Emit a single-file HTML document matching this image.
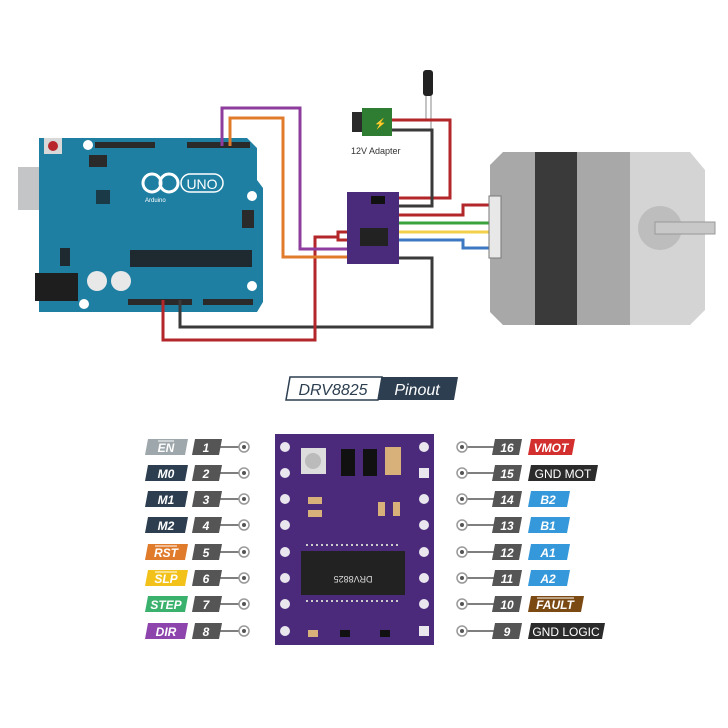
<!DOCTYPE html>
<html><head><meta charset="utf-8"><style>
body{margin:0;background:#fff}
svg{display:block}
text{font-family:"Liberation Sans",sans-serif}
</style></head><body>
<svg width="728" height="728" viewBox="0 0 728 728" xmlns="http://www.w3.org/2000/svg">
<!-- Arduino -->
<rect x="18" y="167" width="56" height="43" fill="#a9abad"/>
<rect x="18" y="167" width="40" height="43" fill="#c3c5c7"/>
<path d="M39 138 H247 L257 148 V180 L263 188 V302 L257 312 H39 Z" fill="#1f7fa2"/>
<rect x="35" y="273" width="43" height="28" fill="#1e1e1e"/>
<circle cx="88" cy="145" r="5" fill="#fff"/><circle cx="252" cy="196" r="5" fill="#fff"/>
<circle cx="252" cy="286" r="5" fill="#fff"/><circle cx="84" cy="304" r="5" fill="#fff"/>
<rect x="44" y="138" width="18" height="16" fill="#d8d8d8"/><circle cx="53" cy="146" r="5" fill="#b8262b"/>
<rect x="95" y="142" width="60" height="6" fill="#2a2a2a"/><rect x="187" y="142" width="63" height="6" fill="#2a2a2a"/>
<rect x="89" y="155" width="18" height="12" fill="#2a2a2a"/>
<rect x="96" y="190" width="14" height="14" fill="#1a3a48"/>
<rect x="242" y="210" width="12" height="18" fill="#2a2a2a"/>
<circle cx="152" cy="183" r="9" fill="none" stroke="#fff" stroke-width="3"/><circle cx="169" cy="183" r="9" fill="none" stroke="#fff" stroke-width="3"/>
<rect x="181" y="174" width="42" height="18" rx="9" fill="none" stroke="#fff" stroke-width="1.5"/>
<text x="202" y="189" font-size="14" fill="#fff" text-anchor="middle">UNO</text>
<text x="145" y="202" font-size="6" fill="#fff">Arduino</text>
<rect x="130" y="250" width="122" height="17" fill="#1e2a30"/>
<rect x="60" y="248" width="10" height="18" fill="#1e2a30"/>
<circle cx="97" cy="281" r="10" fill="#e8e8e8"/><circle cx="121" cy="281" r="10" fill="#e8e8e8"/>
<rect x="128" y="299" width="64" height="6" fill="#2a2a2a"/><rect x="203" y="299" width="50" height="6" fill="#2a2a2a"/>
<!-- adapter & capacitor -->
<rect x="352" y="112" width="12" height="20" fill="#2a2a2a"/>
<rect x="362" y="108" width="30" height="28" fill="#2e7d32"/>
<text x="374" y="127" font-size="10" fill="#f4b400">⚡</text>
<rect x="423" y="70" width="10" height="26" rx="3" fill="#222"/>
<line x1="426" y1="96" x2="426" y2="120" stroke="#888"/><line x1="431" y1="96" x2="431" y2="130" stroke="#888"/>
<text x="351" y="154" font-size="9" fill="#333">12V Adapter</text>
<!-- wires -->
<g fill="none" stroke-width="3">
<path d="M395 198 H450 V120 H392" stroke="#b3262a"/>
<path d="M395 206 H432 V130 H392" stroke="#3a3a3a"/>
<path d="M395 215 H463 V205 H497" stroke="#b3262a"/>
<path d="M395 223 H497" stroke="#3aa33c"/>
<path d="M395 232 H497" stroke="#f2d04a"/>
<path d="M395 240 H463 V248 H497" stroke="#3d78c2"/>
<path d="M395 258 H432 V327 H180 V300" stroke="#3a3a3a"/>
<path d="M353 232 H338 V240 H353 M338 237 H315 V340 H163 V300" stroke="#b3262a"/>
<path d="M353 249 H300 V108 H222 V146" stroke="#8e3d9e"/>
<path d="M353 257 H283 V118 H230 V146" stroke="#e07b2c"/>
</g>
<!-- small driver -->
<rect x="347" y="192" width="52" height="72" fill="#4a2a7a"/>
<rect x="360" y="228" width="28" height="18" fill="#222"/>
<rect x="371" y="196" width="14" height="8" fill="#111"/>
<!-- motor -->
<path d="M490 165 L503 152 H630 V325 H503 L490 312 Z" fill="#a8a8a8"/>
<rect x="535" y="152" width="42" height="173" fill="#3a3a3a"/>
<path d="M630 152 L690 152 L705 170 V310 L690 325 H630 Z" fill="#d4d4d4"/>
<circle cx="660" cy="228" r="22" fill="#bdbdbd"/>
<rect x="655" y="222" width="60" height="12" fill="#c8c8c8" stroke="#999"/>
<rect x="489" y="196" width="12" height="62" fill="#e8e8e8" stroke="#777"/>
<!-- title -->
<polygon points="290,377 382,377 378,400 286,400" fill="#fff" stroke="#2c3e50" stroke-width="1.5"/>
<polygon points="382,377 458,377 454,400 378,400" fill="#2c3e50"/>
<text x="333" y="395" font-size="16" font-style="italic" fill="#2c3e50" text-anchor="middle">DRV8825</text>
<text x="417" y="395" font-size="16" font-style="italic" fill="#fff" text-anchor="middle">Pinout</text>
<!-- board -->
<rect x="275" y="434" width="159" height="211" fill="#4b2a7b"/>
<g fill="#e9e6ee">
<circle cx="285" cy="447" r="5"/><circle cx="285" cy="473" r="5"/><circle cx="285" cy="499" r="5"/><circle cx="285" cy="525" r="5"/><circle cx="285" cy="552" r="5"/><circle cx="285" cy="578" r="5"/><circle cx="285" cy="604" r="5"/><circle cx="285" cy="631" r="5"/>
<circle cx="424" cy="447" r="5"/><rect x="419" y="468" width="10" height="10"/><circle cx="424" cy="499" r="5"/><circle cx="424" cy="525" r="5"/><circle cx="424" cy="552" r="5"/><circle cx="424" cy="578" r="5"/><circle cx="424" cy="604" r="5"/><rect x="419" y="626" width="10" height="10"/>
</g>
<rect x="301" y="448" width="25" height="26" fill="#ddd"/><circle cx="313" cy="461" r="8" fill="#bbb"/>
<rect x="341" y="449" width="14" height="27" fill="#111"/><rect x="363" y="449" width="14" height="27" fill="#111"/>
<rect x="385" y="447" width="16" height="28" fill="#d8b17a"/>
<rect x="308" y="497" width="14" height="7" fill="#d8b17a"/><rect x="308" y="510" width="14" height="7" fill="#d8b17a"/>
<rect x="378" y="502" width="7" height="14" fill="#d8b17a"/><rect x="393" y="502" width="7" height="14" fill="#d8b17a"/>
<rect x="301" y="551" width="104" height="44" fill="#222"/>
<g stroke="#ccc" stroke-width="2" stroke-dasharray="2,3"><line x1="306" y1="545" x2="400" y2="545"/><line x1="306" y1="601" x2="400" y2="601"/></g>
<text x="353" y="582" font-size="9" fill="#ddd" text-anchor="middle" transform="rotate(180 353 579)">DRV8825</text>
<rect x="308" y="630" width="10" height="7" fill="#d8b17a"/><rect x="340" y="630" width="10" height="7" fill="#111"/><rect x="380" y="630" width="10" height="7" fill="#111"/>
<!-- pins -->
<g font-size="12" font-style="italic" font-weight="bold" text-anchor="middle">
<g stroke="#555" stroke-width="1.5"><line x1="220" y1="447" x2="242" y2="447"/><line x1="220" y1="473" x2="242" y2="473"/><line x1="220" y1="499" x2="242" y2="499"/><line x1="220" y1="525" x2="242" y2="525"/><line x1="220" y1="552" x2="242" y2="552"/><line x1="220" y1="578" x2="242" y2="578"/><line x1="220" y1="604" x2="242" y2="604"/><line x1="220" y1="631" x2="242" y2="631"/>
<line x1="465" y1="447" x2="494" y2="447"/><line x1="465" y1="473" x2="494" y2="473"/><line x1="465" y1="499" x2="494" y2="499"/><line x1="465" y1="525" x2="494" y2="525"/><line x1="465" y1="552" x2="494" y2="552"/><line x1="465" y1="578" x2="494" y2="578"/><line x1="465" y1="604" x2="494" y2="604"/><line x1="465" y1="631" x2="494" y2="631"/></g>
<g fill="#fff" stroke="#999" stroke-width="1.5">
<circle cx="244" cy="447" r="5"/><circle cx="244" cy="473" r="5"/><circle cx="244" cy="499" r="5"/><circle cx="244" cy="525" r="5"/><circle cx="244" cy="552" r="5"/><circle cx="244" cy="578" r="5"/><circle cx="244" cy="604" r="5"/><circle cx="244" cy="631" r="5"/>
<circle cx="462" cy="447" r="5"/><circle cx="462" cy="473" r="5"/><circle cx="462" cy="499" r="5"/><circle cx="462" cy="525" r="5"/><circle cx="462" cy="552" r="5"/><circle cx="462" cy="578" r="5"/><circle cx="462" cy="604" r="5"/><circle cx="462" cy="631" r="5"/></g>
<g fill="#555"><circle cx="244" cy="447" r="2"/><circle cx="244" cy="473" r="2"/><circle cx="244" cy="499" r="2"/><circle cx="244" cy="525" r="2"/><circle cx="244" cy="552" r="2"/><circle cx="244" cy="578" r="2"/><circle cx="244" cy="604" r="2"/><circle cx="244" cy="631" r="2"/>
<circle cx="462" cy="447" r="2"/><circle cx="462" cy="473" r="2"/><circle cx="462" cy="499" r="2"/><circle cx="462" cy="525" r="2"/><circle cx="462" cy="552" r="2"/><circle cx="462" cy="578" r="2"/><circle cx="462" cy="604" r="2"/><circle cx="462" cy="631" r="2"/></g>
<g>
<polygon points="148,439 188,439 185,455 145,455" fill="#9ea7ab"/><text x="166" y="452" fill="#fff">EN</text><line x1="158" y1="441" x2="174" y2="441" stroke="#fff"/>
<polygon points="148,465 188,465 185,481 145,481" fill="#2c3e50"/><text x="166" y="478" fill="#fff">M0</text>
<polygon points="148,491 188,491 185,507 145,507" fill="#2c3e50"/><text x="166" y="504" fill="#fff">M1</text>
<polygon points="148,517 188,517 185,533 145,533" fill="#2c3e50"/><text x="166" y="530" fill="#fff">M2</text>
<polygon points="148,544 188,544 185,560 145,560" fill="#e07b2c"/><text x="166" y="557" fill="#fff">RST</text><line x1="155" y1="546" x2="177" y2="546" stroke="#fff"/>
<polygon points="148,570 188,570 185,586 145,586" fill="#f2c21b"/><text x="166" y="583" fill="#fff">SLP</text><line x1="155" y1="572" x2="177" y2="572" stroke="#fff"/>
<polygon points="148,596 188,596 185,612 145,612" fill="#3bb16e"/><text x="166" y="609" fill="#fff">STEP</text>
<polygon points="148,623 188,623 185,639 145,639" fill="#8e44ad"/><text x="166" y="636" fill="#fff">DIR</text>
</g>
<g fill="#555">
<polygon points="195,439 222,439 219,455 192,455"/><polygon points="195,465 222,465 219,481 192,481"/><polygon points="195,491 222,491 219,507 192,507"/><polygon points="195,517 222,517 219,533 192,533"/><polygon points="195,544 222,544 219,560 192,560"/><polygon points="195,570 222,570 219,586 192,586"/><polygon points="195,596 222,596 219,612 192,612"/><polygon points="195,623 222,623 219,639 192,639"/>
<polygon points="495,439 522,439 519,455 492,455"/><polygon points="495,465 522,465 519,481 492,481"/><polygon points="495,491 522,491 519,507 492,507"/><polygon points="495,517 522,517 519,533 492,533"/><polygon points="495,544 522,544 519,560 492,560"/><polygon points="495,570 522,570 519,586 492,586"/><polygon points="495,596 522,596 519,612 492,612"/><polygon points="495,623 522,623 519,639 492,639"/>
</g>
<g fill="#fff">
<text x="206" y="452">1</text><text x="206" y="478">2</text><text x="206" y="504">3</text><text x="206" y="530">4</text><text x="206" y="557">5</text><text x="206" y="583">6</text><text x="206" y="609">7</text><text x="206" y="636">8</text>
<text x="507" y="452">16</text><text x="507" y="478">15</text><text x="507" y="504">14</text><text x="507" y="530">13</text><text x="507" y="557">12</text><text x="507" y="583">11</text><text x="507" y="609">10</text><text x="507" y="636">9</text>
</g>
<polygon points="531,439 575,439 572,455 528,455" fill="#d32f2f"/><text x="551" y="452" fill="#fff">VMOT</text>
<polygon points="531,465 598,465 595,481 528,481" fill="#2b2b2b"/><text x="563" y="478" fill="#fff" font-style="normal" font-weight="normal">GND MOT</text>
<polygon points="531,491 570,491 567,507 528,507" fill="#3498db"/><text x="548" y="504" fill="#fff">B2</text>
<polygon points="531,517 570,517 567,533 528,533" fill="#3498db"/><text x="548" y="530" fill="#fff">B1</text>
<polygon points="531,544 570,544 567,560 528,560" fill="#3498db"/><text x="548" y="557" fill="#fff">A1</text>
<polygon points="531,570 570,570 567,586 528,586" fill="#3498db"/><text x="548" y="583" fill="#fff">A2</text>
<polygon points="531,596 584,596 581,612 528,612" fill="#7b4a12"/><text x="555" y="609" fill="#fff">FAULT</text><line x1="537" y1="598" x2="574" y2="598" stroke="#fff"/>
<polygon points="531,623 605,623 602,639 528,639" fill="#2b2b2b"/><text x="566" y="636" fill="#fff" font-style="normal" font-weight="normal">GND LOGIC</text>
</g>
</svg>
</body></html>
